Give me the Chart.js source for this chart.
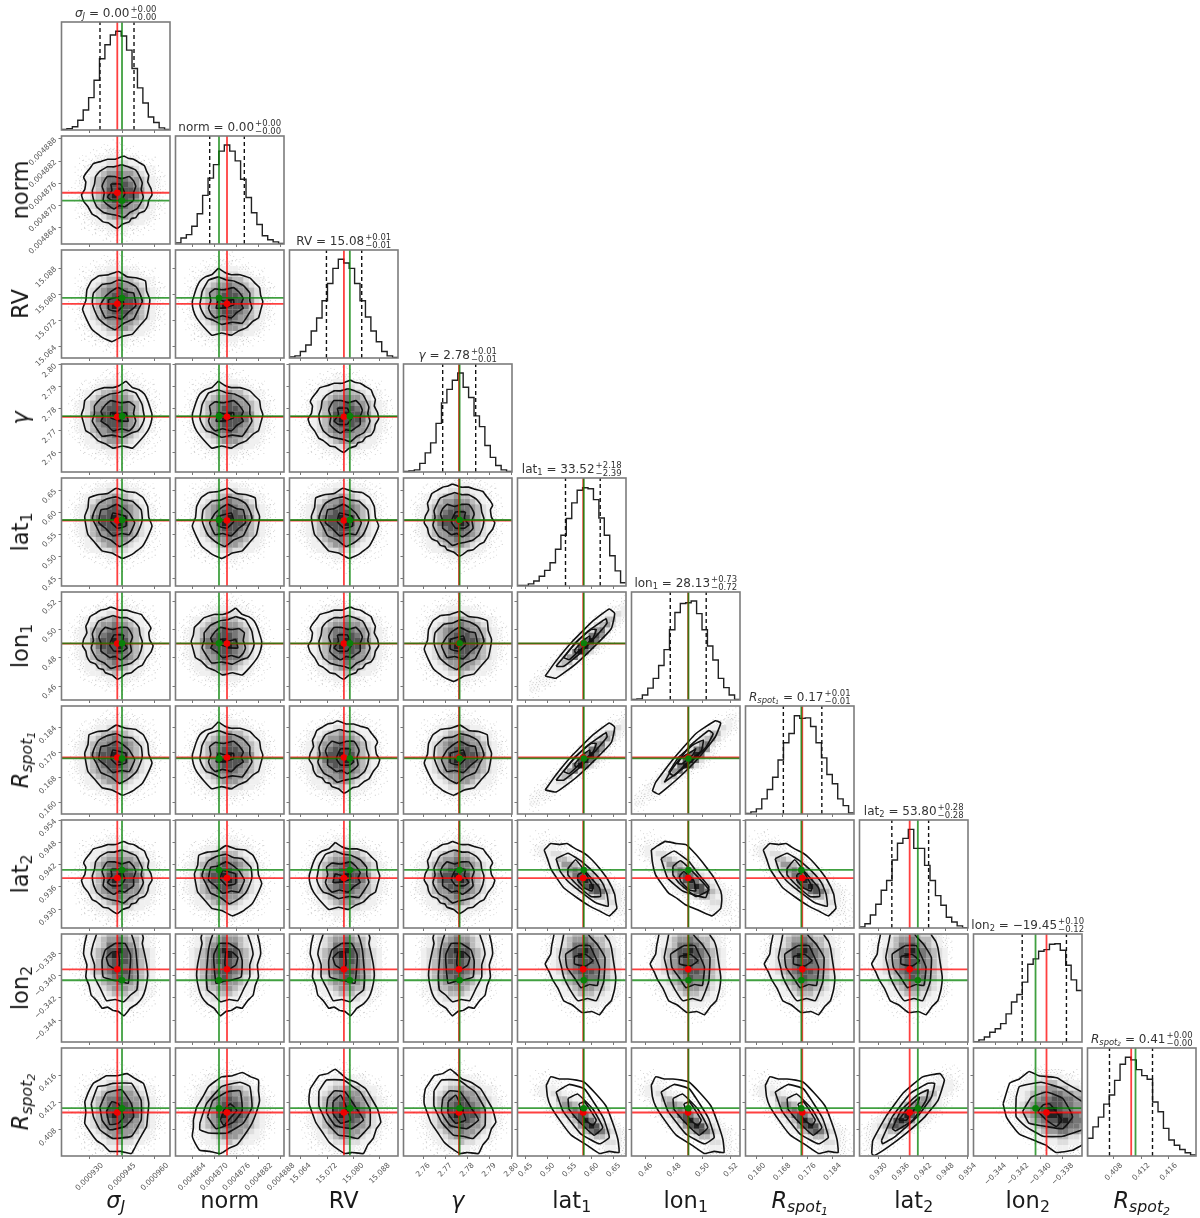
<!DOCTYPE html>
<html>
<head>
<meta charset="utf-8">
<title>corner plot</title>
<script src="https://cdn.jsdelivr.net/npm/chart.js@4"></script>
<style>
html, body { margin: 0; background: #fff; }
#plot { position: relative; width: 1200px; height: 1218px; overflow: hidden; filter: blur(0.55px);
        font-family: "DejaVu Sans", sans-serif; color: #1a1a1a; }
#plot canvas { position: absolute; }
.title, .xlab, .ylab { position: absolute; white-space: nowrap; }
.title { font-size: 12px; line-height: 14px; transform: translateX(-50%); color: #333; }
.xlab { font-size: 22.5px; line-height: 26px; transform: translateX(-50%); }
.ylab { font-size: 22.5px; line-height: 26px; transform: translate(-50%, -50%) rotate(-90deg); }
sub { font-size: .7em; line-height: 0; vertical-align: -.25em; }
.pm { display: inline-block; vertical-align: middle; font-size: 8.5px; line-height: 8px; margin-left: 1px; }
.pm span { display: block; }
</style>
</head>
<body>
<div id="plot"></div>
<script>
var titleNames = [ "<i>σ<sub>J</sub></i>", "norm", "RV", "<i>γ</i>", "lat<sub>1</sub>", "lon<sub>1</sub>", "<i>R<sub>spot<sub>1</sub></sub></i>", "lat<sub>2</sub>", "lon<sub>2</sub>", "<i>R<sub>spot<sub>2</sub></sub></i>" ];
var titleValues = [ "0.00", "0.00", "15.08", "2.78", "33.52", "28.13", "0.17", "53.80", "−19.45", "0.41" ];
var titlePlus = [ "+0.00", "+0.00", "+0.01", "+0.01", "+2.18", "+0.73", "+0.01", "+0.28", "+0.10", "+0.00" ];
var titleMinus = [ "−0.00", "−0.00", "−0.01", "−0.01", "−2.39", "−0.72", "−0.01", "−0.28", "−0.12", "−0.00" ];

var axisMin = [ 0.00091712, 0.00485955, 15.0606, 2.7511, 0.4318, 0.4501, 0.1564, 0.9249, -0.34596, 0.40416 ];
var axisMax = [ 0.00096704, 0.00488881, 15.0935, 2.8004, 0.6784, 0.5265, 0.1908, 0.9541, -0.33627, 0.42 ];
var medians = [ 0.00094279, 0.00487344, 15.0771, 2.7763, 0.5811, 0.4900, 0.1744, 0.9384, -0.33944, 0.41054 ];
var truths = [ 0.00094496, 0.00487128, 15.0789, 2.7766, 0.5825, 0.4902, 0.1741, 0.9406, -0.34042, 0.41117 ];
var lowQuantiles = [ 0.00093483, 0.00486877, 15.0718, 2.7689, 0.5409, 0.4774, 0.1684, 0.9336, -0.34161, 0.40737 ];
var highQuantiles = [ 0.00095048, 0.00487811, 15.0825, 2.7839, 0.6198, 0.5027, 0.1806, 0.9435, -0.33766, 0.41365 ];

var tickValues = [
    [ 0.00093, 0.000945, 0.00096 ],
    [ 0.004864, 0.00487, 0.004876, 0.004882, 0.004888 ],
    [ 15.064, 15.072, 15.08, 15.088 ],
    [ 2.76, 2.77, 2.78, 2.79, 2.8 ],
    [ 0.45, 0.5, 0.55, 0.6, 0.65 ],
    [ 0.46, 0.48, 0.5, 0.52 ],
    [ 0.16, 0.168, 0.176, 0.184 ],
    [ 0.93, 0.936, 0.942, 0.948, 0.954 ],
    [ -0.344, -0.342, -0.34, -0.338 ],
    [ 0.408, 0.412, 0.416 ]
];
var tickLabels = [
    [ "0.000930", "0.000945", "0.000960" ],
    [ "0.004864", "0.004870", "0.004876", "0.004882", "0.004888" ],
    [ "15.064", "15.072", "15.080", "15.088" ],
    [ "2.76", "2.77", "2.78", "2.79", "2.80" ],
    [ "0.45", "0.50", "0.55", "0.60", "0.65" ],
    [ "0.46", "0.48", "0.50", "0.52" ],
    [ "0.160", "0.168", "0.176", "0.184" ],
    [ "0.930", "0.936", "0.942", "0.948", "0.954" ],
    [ "−0.344", "−0.342", "−0.340", "−0.338" ],
    [ "0.408", "0.412", "0.416" ]
];
var labelShift = [ 12.7, 12.7, 9.2, 6, 6, 6, 7.6, 7.6, 9.8, 7.6 ];

var histSigmaJ = [ .004, .012, .03, .09, .185, .30, .46, .66, .79, .88, .915, .87, .74, .57, .39, .25, .12, .07, .02, .006 ];
var histNorm = [ .01, .056, .087, .164, .28, .45, .61, .735, .86, .916, .86, .77, .6, .43, .29, .18, .077, .04, .02, .006 ];
var histRV = [ .01, .02, .06, .12, .25, .37, .53, .69, .83, .914, .88, .83, .69, .53, .38, .25, .15, .06, .02, .006 ];
var histGamma = [ .006, .01, .02, .08, .177, .27, .45, .64, .765, .85, .917, .785, .69, .52, .42, .245, .135, .06, .02, .006 ];
var histLat1 = [ .006, .006, .02, .046, .09, .145, .215, .34, .47, .625, .77, .886, .91, .90, .80, .63, .47, .28, .14, .03 ];
var histLon1 = [ .006, .01, .046, .11, .2, .32, .466, .65, .81, .894, .90, .916, .8, .65, .5, .37, .2, .115, .046, .006 ];
var histRspot1 = [ .006, .02, .047, .14, .227, .34, .5, .66, .745, .91, .885, .89, .81, .66, .52, .366, .28, .14, .078, .01 ];
var histLat2 = [ .01, .04, .12, .22, .35, .44, .63, .785, .83, .913, .737, .737, .58, .44, .30, .21, .10, .056, .02, .003 ];
var histLon2 = [ .003, .02, .046, .09, .123, .17, .26, .37, .44, .554, .72, .77, .84, .855, .905, .91, .85, .71, .575, .477 ];
var histRspot2 = [ .164, .27, .36, .48, .565, .70, .85, .914, .89, .80, .744, .71, .50, .41, .256, .148, .10, .06, .03, .01 ];
var histograms = [ histSigmaJ, histNorm, histRV, histGamma, histLat1, histLon1, histRspot1, histLat2, histLon2, histRspot2 ];

// contour rings, flat dx,dy pairs in percent of the axis range away from the medians
var contourR1 = [
    [ 6,34, 10,32, 15,31, 20,28, 25,25, 27,20, 29,16, 28,10, 31,4, 32,-2, 29,-7, 28,-12, 25,-17, 20,-19, 17,-23, 13,-24, 11,-27, 5,-29, 0,-33, -4,-31, -8,-28, -13,-27, -19,-22, -23,-20, -27,-13, -31,-8, -33,-2, -30,3, -29,10, -31,14, -29,18, -25,23, -22,27, -15,29, -9,31, -2,31 ],
    [ 4,26, 10,24, 17,21, 20,16, 23,9, 22,3, 24,-4, 22,-9, 18,-15, 12,-18, 6,-23, 0,-21, -6,-20, -13,-18, -19,-13, -22,-6, -23,2, -21,8, -20,15, -16,20, -9,24, -3,24 ],
    [ -2,15, 4,13, 11,15, 15,11, 17,6, 15,0, 15,-7, 11,-10, 7,-13, 2,-12, -3,-15, -8,-12, -13,-7, -12,0, -14,6, -12,11, -9,15 ],
    [ -6,8, 3,8, 7,-1, 3,-7, -5,-7, -9,-4, -5,2 ]
];
var contourR2 = [
    [ -8,33, -2,29, 4,27, 12,27, 21,24, 26,19, 30,15, 31,8, 33,2, 31,-6, 29,-13, 24,-16, 18,-22, 11,-25, 4,-29, -5,-27, -14,-29, -21,-22, -28,-13, -31,-6, -32,2, -30,9, -28,15, -25,21, -20,25, -14,27 ],
    [ -8,25, 0,22, 7,21, 15,17, 21,10, 21,3, 23,-4, 19,-11, 14,-18, 5,-17, -5,-19, -13,-15, -19,-13, -23,-7, -25,-1, -24,5, -23,11, -20,17, -17,22 ],
    [ -11,14, -3,13, 6,15, 11,11, 15,5, 13,0, 15,-4, 9,-8, 4,-13, -4,-11, -11,-13, -15,-9, -17,-4, -15,3, -16,10 ],
    [ -8,4, 0,2, 6,4, 6,-1, -5,-4, -10,-4 ]
];
var contourR3 = [
    [ -17,26, -8,27, 1,30, 9,25, 18,24, 26,21, 27,12, 30,4, 29,-4, 27,-13, 21,-20, 14,-28, 5,-30, -5,-35, -14,-31, -23,-24, -28,-15, -32,-5, -29,3, -28,13, -24,21 ],
    [ -14,18, -6,19, 1,22, 10,20, 17,16, 21,9, 23,2, 19,-6, 15,-14, 6,-18, -2,-24, -10,-20, -17,-14, -21,-6, -23,1, -22,10 ],
    [ -11,7, -5,12, 1,15, 9,11, 15,10, 17,-2, 11,-7, 4,-14, -4,-12, -11,-13, -16,-2 ],
    [ -8,4, 4,7, 6,-1, 0,-7, -8,-5 ]
];
var contourL2 = [
    [ -28,45, -28,33, -30,24, -31,14, -28,4, -29,-7, -26,-15, -24,-24, -19,-29, -14,-36, -9,-35, -4,-38, 1,-39, 6,-43, 12,-36, 18,-32, 23,-26, 26,-18, 28,-6, 27,5, 25,15, 23,24, 24,29, 23,33, 25,45 ],
    [ -19,45, -19,33, -22,24, -24,14, -21,4, -21,-7, -16,-17, -10,-29, -2,-28, 6,-30, 12,-24, 18,-19, 19,-6, 18,8, 17,18, 15,27, 13,33, 13,45 ],
    [ -2,24, 7,24, 12,14, 12,5, 10,-13, 3,-11, -4,-10, -13,-7, -14,8, -11,18 ],
    [ -5,16, 1,16, 2,5, 0,-1, -8,4, -10,11 ]
];
var contourL3 = [
    [ -27,45, -27,32, -29,22, -30,14, -35,5, -31,-3, -28,-10, -23,-18, -18,-29, -10,-33, -1,-40, 8,-39, 15,-42, 21,-34, 26,-29, 29,-18, 30,-7, 28,7, 26,20, 24,26, 20,32, 20,45 ],
    [ -18,45, -18,32, -22,11, -20,2, -18,-7, -12,-19, -5,-29, 4,-27, 12,-29, 16,-20, 19,-11, 20,11, 13,23, 5,32, 5,45 ],
    [ -4,22, -16,14, -15,2, -8,-8, -2,-17, 6,-14, 13,-15, 15,2, 10,14, 6,22 ],
    [ -8,12, 2,14, 9,8, 2,3, -8,5 ]
];
var contourS1 = [
    [ -30,10, -27,18, -22,27, -17,30, -10,34, 0,34, 9,36, 17,31, 24,27, 27,18, 29,8, 28,-3, 27,-13, 23,-20, 18,-29, 16,-33, 13,-38, 3,-36, -7,-36, -13,-30, -19,-26, -25,-18, -30,-10, -29,0 ],
    [ -24,8, -18,24, -11,25, -4,27, 13,27, 18,19, 22,11, 22,-7, 13,-22, -4,-24, -16,-16, -22,-4 ],
    [ -16,5, -10,18, 4,21, 13,8, 15,-4, 7,-13, -7,-16, -14,-7 ],
    [ -10,1, -5,10, 1,8, 6,-4, 1,-10, -7,-11 ]
];
var contourS2 = [
    [ -31,22, -23,34, -15,36, -8,40, 3,31, 11,28, 20,22, 26,12, 31,3, 34,-9, 30,-15, 27,-24, 22,-30, 18,-38, 8,-37, 1,-38, -7,-33, -14,-27, -20,-18, -26,-9, -32,8, -32,16 ],
    [ -23,20, -16,30, 0,30, 8,24, 15,19, 24,3, 24,-12, 19,-18, 13,-24, 4,-22, -5,-21, -16,-9, -23,6 ],
    [ -15,13, -9,20, 1,19, 12,3, 18,-7, 7,-15, -8,-12, -16,0 ],
    [ -10,10, -3,16, 3,3, 6,-7, -3,-10, -10,-1 ]
];
var contourP = [
    [ -31,-7, -28,5, -22,15, -17,24, -5,33, 5,34, 14,37, 22,33, 29,30, 29,20, 30,11, 27,0, 23,-10, 16,-21, 9,-30, 2,-33, -6,-38, -16,-36, -25,-35, -29,-29, -32,-22, -31,-14 ],
    [ -25,-10, -19,8, -5,24, 12,28, 21,24, 23,5, 15,-10, 0,-19, -17,-19, -25,-16 ],
    [ -18,-4, -13,11, 0,19, 12,20, 14,2, 6,-9, -10,-15 ],
    [ -6,-7, -3,2, 3,8, 9,2, 4,-4, -3,-12 ]
];
var contourD1 = [
    [ -35,-30, -25,-16, -10,2, 9,21, 24,32, 29,28, 26,14, 12,-1, -7,-19, -25,-32 ],
    [ -25,-21, -11,-4, 4,11, 21,23, 22,19, 12,7, -4,-10, -18,-21 ],
    [ -18,-13, -7,1, 7,13, 12,13, 9,5, -4,-7, -13,-15 ],
    [ -8,-6, -1,2, 6,7, 6,2, -2,-6, -7,-9 ]
];
var contourD2 = [
    [ -33,-31, -30,-23, -15,-3, 7,22, 25,34, 30,32, 25,19, 10,0, -9,-19, -27,-34 ],
    [ -22,-23, -15,-11, 2,11, 19,25, 23,22, 16,9, -2,-8, -18,-20 ],
    [ -18,-14, -9,0, 5,12, 14,16, 12,6, -2,-6, -13,-17 ],
    [ -10,-6, -6,0, 4,6, 7,8, 4,2, -6,-6 ]
];
var contourT1 = [
    [ -36,26, -30,32, -22,31, -15,32, -7,27, 1,23, 8,17, 15,9, 23,-2, 29,-15, 30,-22, 31,-28, 24,-35, 16,-31, 6,-26, -6,-18, -18,-9, -25,1, -30,9, -33,18 ],
    [ -25,18, -14,23, -7,19, -1,15, 12,3, 18,-5, 22,-15, 23,-26, 12,-23, -7,-9, -15,-2, -21,6 ],
    [ -14,9, -7,17, 2,6, 15,-9, 16,-17, 7,-17, -7,-5, -14,3 ],
    [ -5,3, 1,6, 9,-8, 8,-12, 1,-9, -5,-2 ]
];
var contourT2 = [
    [ -34,26, -28,30, -21,34, -11,32, -2,31, 7,22, 16,11, 24,0, 30,-12, 31,-20, 30,-28, 22,-35, 10,-30, -2,-25, -10,-19, -18,-14, -24,-6, -30,3, -33,15 ],
    [ -25,18, -13,25, 1,15, 10,3, 19,-8, 16,-18, -5,-12, -19,0 ],
    [ -14,11, -7,16, 7,3, 19,-11, 7,-17, -8,-5, -14,3 ],
    [ -8,2, -4,6, 5,-2, 7,-12, 1,-11, -7,-3 ]
];
var contourN = [
    [ -34,25, -30,33, -22,31, -14,31, -6,30, 1,28, 11,18, 21,6, 27,-9, 32,-25, 33,-37, 24,-36, 15,-38, 3,-30, -11,-21, -21,-8, -30,6, -33,15 ],
    [ -25,19, -13,26, 1,22, 10,9, 19,-6, 24,-23, 15,-29, -2,-20, -11,-9, -19,2 ],
    [ -14,13, -5,17, 9,3, 18,-14, 10,-21, -5,-7, -13,3 ],
    [ -4,8, 1,10, 12,-7, 9,-12, 1,-6 ]
];
var contourQ = [
    [ -35,-38, -34,-26, -22,-4, -6,18, 12,33, 28,36, 32,30, 26,11, 14,-4, -3,-19, -20,-32, -33,-40 ],
    [ -26,-26, -16,-4, 1,18, 17,27, 23,27, 20,14, 7,-4, -13,-22, -25,-29 ],
    [ -16,-15, -8,2, 7,16, 17,21, 15,11, 3,-7, -13,-17 ],
    [ -10,-7, -2,4, 9,14, 7,7, -3,-7 ]
];
var contourH = [
    [ -40,8, -34,27, -25,31, -16,38, -7,34, 3,33, 10,32, 18,27, 33,19, 45,15, 45,-30, 33,-30, 24,-35, 9,-37, -1,-30, -11,-26, -25,-20, -31,-13, -37,-4 ],
    [ -28,14, -25,24, -5,28, 15,22, 33,10, 45,6, 45,-12, 33,-16, 15,-22, -3,-22, -19,-13, -28,-4 ],
    [ -22,1, -14,14, 0,19, 15,13, 24,-4, 15,-15, 0,-13, -16,-10 ],
    [ -8,1, -3,7, 3,8, 14,-7, 9,-13, 0,-7 ]
];

// 2d histogram levels, 20x20 bins around the medians: 1,2 sparse dots, 3-9 light to dark
var gridRound = [
    "00000000011000000000", "00000001111110000000", "00000111222111000000", "00011122333322111000", "00011233444433211000",
    "00112334556554332100", "00112345667665432110", "00123456778766543210", "00123456788876543210", "01123456889887643210",
    "01123456898887543210", "00123456788876543210", "00123456778766543210", "00112345667665432110", "00112334566654332100",
    "00011233445443321000", "00011122333322111000", "00000111222211100000", "00000001111110000000", "00000000010000000000"
];
var gridVert = [
    "00000111222211100000", "00001122333322110000", "00011233444433211000", "00012334556544321000", "00112345667655432100",
    "00122345778765432100", "00123456889876543100", "00123456898876543100", "00123456788876543100", "01123456788776543100",
    "01123456788876543100", "00123345678776543100", "00112345667665432100", "00012334566655432100", "00011233455544322100",
    "00001122334443321000", "00000112233332211000", "00000011122221110000", "00000001111111100000", "00000000011110000000"
];
var gridNeg = [
    "00000000000000000000", "01110000000000000000", "11111100000000000000", "11222211000000000000", "12333221000000000000",
    "12334432210000000000", "01233554332100000000", "00123466543210000000", "00123456765432100000", "00012345787543210000",
    "00001234589754321000", "00000123468985432100", "00000012345787543210", "00000000123455433211", "00000000001123443211",
    "00000000000112332211", "00000000000011222211", "00000000000000111111", "00000000000000001110", "00000000000000000000"
];
var gridDiag = [
    "00000000000000000011", "00000000000000000111", "00000000000000011221", "00000000000000122321", "00000000000012334321",
    "00000000000123553210", "00000000001245642100", "00000000012467421000", "00000000124786210000", "00000001247973210000",
    "00000012489742100000", "00000124797421000000", "00001246742100000000", "00012455321000000000", "00123442100000000000",
    "01223321000000000000", "12222100000000000000", "22221000000000000000", "22100000000000000000", "11000000000000000000"
];
var gridHoriz = [
    "00000000000000000000", "00000001110000000000", "00000111222221110000", "00011123344332211000", "00011233445544332110",
    "00112334556655443321", "01122345566776655433", "01123345677887766544", "01123456778887766554", "11123456789987766555",
    "01123456789998876655", "00112345678899877665", "00012334567788776654", "00001223456677665543", "00000112334455443332",
    "00000011223344332222", "00000000112233221111", "00000000011122211100", "00000000000111111000", "00000000000000100000"
];

var families = {
    R1: { rings: contourR1, grid: gridRound }, R2: { rings: contourR2, grid: gridRound }, R3: { rings: contourR3, grid: gridRound },
    L2: { rings: contourL2, grid: gridVert }, L3: { rings: contourL3, grid: gridVert },
    S1: { rings: contourS1, grid: gridRound }, S2: { rings: contourS2, grid: gridRound },
    P: { rings: contourP, grid: gridRound }, Q: { rings: contourQ, grid: gridNeg, gridFlip: true },
    D1: { rings: contourD1, grid: gridDiag }, D2: { rings: contourD2, grid: gridDiag },
    T1: { rings: contourT1, grid: gridNeg }, T2: { rings: contourT2, grid: gridNeg },
    N: { rings: contourN, grid: gridNeg, gridDrop: 5 }, H: { rings: contourH, grid: gridHoriz }
};
// which shape each off-diagonal panel has, a trailing ' means mirrored in x
var panelFamilies = [
    [],
    [ "R1" ],
    [ "R3", "R2" ],
    [ "R2'", "R2", "R1" ],
    [ "R3'", "R3", "R3'", "R1'" ],
    [ "R1'", "R2'", "R1", "R3", "D1" ],
    [ "R3'", "R2", "R1'", "R3", "D1", "D2" ],
    [ "R1", "R3'", "R2", "R1'", "T1", "T2", "T1" ],
    [ "L2", "L2'", "L2", "L2'", "L3", "L3", "L3", "L3" ],
    [ "S1", "P", "S2", "S2", "N", "N", "N", "Q", "H" ]
];

var levelColors = [ null, null, null, "#f0f0f0", "#dedede", "#bbbbbb", "#999999", "#777777", "#555555", "#222222" ];
var sparseDots = [ [ [ 1, 1 ], [ 4, 4 ] ], [ [ 2, 4 ], [ 5, 2 ] ], [ [ 0, 3 ], [ 3, 0 ], [ 4, 5 ] ] ];
var denseDots = [ [ [ 0, 1 ], [ 3, 0 ], [ 5, 2 ], [ 2, 3 ], [ 4, 5 ] ], [ [ 1, 0 ], [ 4, 1 ], [ 0, 4 ], [ 3, 3 ], [ 5, 5 ] ], [ [ 2, 1 ], [ 5, 0 ], [ 1, 3 ], [ 4, 3 ], [ 2, 5 ] ] ];

var plot = document.getElementById( "plot" );
var PANEL_W = 108.5, PANEL_H = 108, PITCH = 114, LEFT0 = 61.5, TOP0 = 22;
var MARGIN_L = 50.5, MARGIN_T = 8, MARGIN_R = 20, MARGIN_B = 50;

function stippleStyles( sets, alpha, under ) {
    return sets.map( function( dots ) {
        var c = document.createElement( "canvas" );
        c.width = 6; c.height = 6;
        var g = c.getContext( "2d" );
        if( under ) { g.fillStyle = under; g.fillRect( 0, 0, 6, 6 ); }
        g.fillStyle = "rgba( 0, 0, 0, " + alpha + " )";
        dots.forEach( function( d ) { g.fillRect( d[ 0 ], d[ 1 ], 1, 1 ); } );
        return c;
    } );
}
var sparseStyles = stippleStyles( sparseDots, 0.16 );
var denseStyles = stippleStyles( denseDots, 0.18, "#fbfbfb" );

function span( p ) { return axisMax[ p ] - axisMin[ p ]; }

function lineSet( data, color, width, dash ) {
    return { data: data, showLine: true, fill: false, pointRadius: 0, borderColor: color, borderWidth: width, borderDash: dash || [] };
}
function dotSet( x, y, color ) {
    return { data: [ { x: x, y: y } ], showLine: false, pointRadius: 3.3, pointBorderWidth: 0, pointBackgroundColor: color };
}

function cellSets( fam, flip, col, row ) {
    var levels = {};
    fam.grid.forEach( function( text, r ) {
        for( var c = 0; c < 20; c++ ) {
            var d = +text[ c ];
            if( !d ) continue;
            var dx = ( c - 9.5 ) * 5;
            if( flip !== !!fam.gridFlip ) dx = -dx;
            var dy = 47.5 - 5 * r - ( fam.gridDrop || 0 );
            ( levels[ d ] = levels[ d ] || [] ).push( {
                x: medians[ col ] + dx / 100 * span( col ),
                y: medians[ row ] + dy / 100 * span( row )
            } );
        }
    } );
    return Object.keys( levels ).map( function( d ) {
        if( d < 3 ) {
            var styles = d == 1 ? sparseStyles : denseStyles;
            return { data: levels[ d ], showLine: false, pointRadius: 3.9, pointStyle: function( ctx ) { return styles[ ctx.dataIndex % 3 ]; } };
        }
        return { data: levels[ d ], showLine: false, pointRadius: 3.95, pointStyle: "rect", pointBorderWidth: 0, pointBackgroundColor: levelColors[ d ] };
    } );
}

function ringSets( fam, flip, col, row ) {
    return fam.rings.map( function( ring ) {
        var pts = [];
        for( var i = 0; i <= ring.length; i += 2 ) {
            var k = i % ring.length;
            pts.push( {
                x: medians[ col ] + ( flip ? -ring[ k ] : ring[ k ] ) / 100 * span( col ),
                y: medians[ row ] + ring[ k + 1 ] / 100 * span( row )
            } );
        }
        var set = lineSet( pts, "#111", 1.6 );
        set.tension = 0.12;
        return set;
    } );
}

var boxPlugin = {
    id: "box",
    afterDraw: function( chart ) {
        var a = chart.chartArea, g = chart.ctx;
        g.save();
        g.strokeStyle = "#7c7c7c";
        g.lineWidth = 1.6;
        g.strokeRect( a.left, a.top, a.right - a.left, a.bottom - a.top );
        g.restore();
    }
};

function axis( p, showTicks, showLabels, isX ) {
    return {
        type: "linear",
        min: p === null ? 0 : axisMin[ p ],
        max: p === null ? 1 : axisMax[ p ],
        afterBuildTicks: function( s ) {
            s.ticks = showTicks ? tickValues[ p ].map( function( v ) { return { value: v }; } ) : [];
        },
        afterFit: function( s ) {
            if( isX ) s.height = MARGIN_B; else s.width = MARGIN_L;
        },
        border: { display: false },
        grid: { drawOnChartArea: false, drawTicks: showTicks, tickLength: 3, tickColor: "#777", tickWidth: 1 },
        ticks: {
            display: showLabels,
            autoSkip: false,
            minRotation: 45,
            maxRotation: 45,
            padding: isX ? 2 : 3,
            labelOffset: isX && showLabels ? labelShift[ p ] : 0,
            color: "#555",
            font: { family: "'DejaVu Sans'", size: 7.5 },
            callback: function( value, index ) { return showLabels ? tickLabels[ p ][ index ] : ""; }
        }
    };
}

function addChart( row, col, sets ) {
    var canvas = document.createElement( "canvas" );
    canvas.width = MARGIN_L + PANEL_W + MARGIN_R;
    canvas.height = MARGIN_T + PANEL_H + MARGIN_B;
    canvas.style.left = ( LEFT0 + PITCH * col - MARGIN_L ) + "px";
    canvas.style.top = ( TOP0 + PITCH * row - MARGIN_T ) + "px";
    plot.appendChild( canvas );
    new Chart( canvas.getContext( "2d" ), {
        type: "scatter",
        data: { datasets: sets.reverse() },
        options: {
            responsive: false,
            animation: false,
            events: [],
            layout: { autoPadding: false, padding: { top: MARGIN_T, right: MARGIN_R, left: 0, bottom: 0 } },
            plugins: { legend: { display: false }, tooltip: { enabled: false } },
            scales: {
                x: axis( col, true, row === 9, true ),
                y: row === col ? axis( null, false, false, false ) : axis( row, true, col === 0, false )
            }
        },
        plugins: [ boxPlugin ]
    } );
}

function drawDiagonal( p ) {
    var step = span( p ) / 20, outline = [ { x: axisMin[ p ], y: 0 } ];
    histograms[ p ].forEach( function( h, i ) {
        outline.push( { x: axisMin[ p ] + step * ( i + 1 ), y: h } );
    } );
    var hist = lineSet( outline, "#222", 1.4 );
    hist.stepped = "after";
    function vertical( v ) { return [ { x: v, y: 0 }, { x: v, y: 1 } ]; }
    addChart( p, p, [
        hist,
        lineSet( vertical( lowQuantiles[ p ] ), "#111", 1.4, [ 4, 3 ] ),
        lineSet( vertical( highQuantiles[ p ] ), "#111", 1.4, [ 4, 3 ] ),
        lineSet( vertical( medians[ p ] ), "rgba( 255, 0, 0, 0.75 )", 1.8 ),
        lineSet( vertical( truths[ p ] ), "rgba( 0, 128, 0, 0.75 )", 1.8 )
    ] );
}

function drawPair( row, col ) {
    var name = panelFamilies[ row ][ col ];
    var flip = name.slice( -1 ) === "'";
    var fam = families[ name.replace( "'", "" ) ];
    var sets = cellSets( fam, flip, col, row ).concat( ringSets( fam, flip, col, row ) );
    function hLine( v ) { return [ { x: axisMin[ col ], y: v }, { x: axisMax[ col ], y: v } ]; }
    function vLine( v ) { return [ { x: v, y: axisMin[ row ] }, { x: v, y: axisMax[ row ] } ]; }
    sets.push(
        lineSet( vLine( medians[ col ] ), "rgba( 255, 0, 0, 0.75 )", 1.8 ),
        lineSet( hLine( medians[ row ] ), "rgba( 255, 0, 0, 0.75 )", 1.8 ),
        lineSet( vLine( truths[ col ] ), "rgba( 0, 128, 0, 0.75 )", 1.8 ),
        lineSet( hLine( truths[ row ] ), "rgba( 0, 128, 0, 0.75 )", 1.8 ),
        dotSet( medians[ col ], medians[ row ], "#f00000" ),
        dotSet( truths[ col ], truths[ row ], "#0a800a" )
    );
    addChart( row, col, sets );
}

function addText( cls, html, left, top ) {
    var el = document.createElement( "div" );
    el.className = cls;
    el.innerHTML = html;
    el.style.left = left + "px";
    el.style.top = top + "px";
    plot.appendChild( el );
}

for( var r = 0; r < 10; r++ ) {
    for( var c = 0; c < r; c++ ) drawPair( r, c );
    drawDiagonal( r );
    var centerX = LEFT0 + PITCH * r + PANEL_W / 2;
    var centerY = TOP0 + PITCH * r + PANEL_H / 2;
    addText( "title", titleNames[ r ] + " = " + titleValues[ r ] + '<span class="pm"><span>' + titlePlus[ r ] + "</span><span>" + titleMinus[ r ] + "</span></span>", centerX, TOP0 + PITCH * r - 17 );
    addText( "xlab", titleNames[ r ], centerX, 1187 );
    if( r > 0 ) addText( "ylab", titleNames[ r ], 20, centerY );
}
</script>
</body>
</html>
